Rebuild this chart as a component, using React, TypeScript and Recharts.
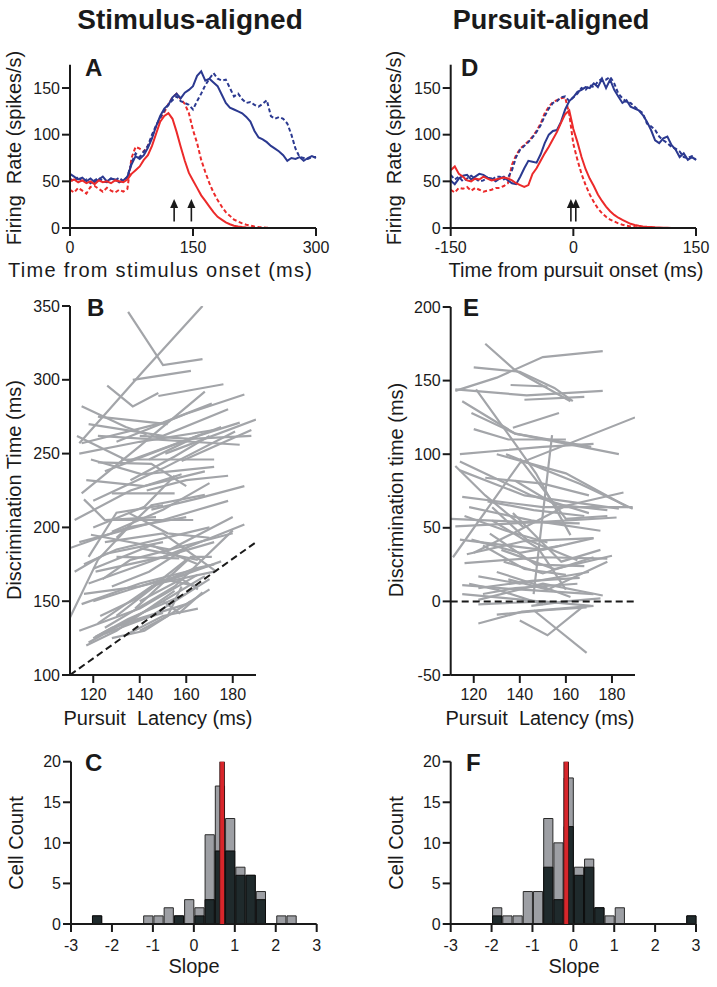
import React from 'react'
import { LineChart, Line, XAxis, YAxis, ReferenceLine, ReferenceDot, ComposedChart, Bar, Scatter } from 'recharts'

const FONT = "'Liberation Sans', Arial, Helvetica, sans-serif"
const INK = '#1a1a1a'
const BLUE = '#2b3990'
const RED = '#ec2a2a'
const GRAY = '#a3a5a9'

// ---- A: stimulus-aligned firing rate (5 ms steps)
const stimTime = [0, 5, 10, 15, 20, 25, 30, 35, 40, 45, 50, 55, 60, 65, 70, 75, 80, 85, 90, 95, 100, 105, 110, 115, 120, 125, 130, 135, 140, 145, 150, 155, 160, 165, 170, 175, 180, 185, 190, 195, 200, 205, 210, 215, 220, 225, 230, 235, 240, 245, 250, 255, 260, 265, 270, 275, 280, 285, 290, 295, 300]
const stimBlueSolid = [58, 55, 52, 54, 50, 53, 49, 52, 55, 50, 53, 52, 49, 51, 55, 68, 77, 74, 78, 86, 96, 109, 120, 128, 132, 140, 144, 139, 145, 148, 152, 163, 168, 158, 160, 156, 152, 143, 134, 129, 127, 125, 123, 119, 114, 104, 97, 95, 92, 88, 85, 82, 78, 72, 75, 74, 76, 72, 75, 77, 75]
const stimBlueDash = [53, 50, 55, 49, 52, 48, 51, 54, 50, 49, 53, 51, 54, 50, 55, 70, 80, 76, 82, 88, 100, 110, 118, 126, 132, 137, 141, 136, 134, 132, 127, 136, 144, 153, 160, 166, 160, 158, 159, 150, 141, 144, 138, 134, 135, 132, 130, 133, 137, 120, 117, 119, 117, 112, 100, 85, 76, 75, 74, 76, 76]
const stimRedSolid = [50, 52, 49, 51, 48, 50, 47, 51, 49, 50, 48, 51, 50, 49, 52, 58, 62, 66, 73, 78, 88, 101, 114, 120, 123, 117, 103, 87, 72, 59, 51, 43, 35, 29, 23, 17, 12, 9, 6, 4, 2.5, 1.6, 1, 0.6, 0.3, 0, 0, 0, 0, 0, 0, 0, 0, 0, 0, 0, 0, 0, 0, 0, 0]
const stimRedDash = [41, 38, 43, 40, 37, 44, 45, 42, 39, 43, 40, 38, 41, 39, 42, 75, 87, 85, 82, 88, 98, 109, 118, 124, 133, 140, 144, 138, 133, 123, 105, 91, 73, 60, 48, 38, 30, 23, 17, 13, 9, 7, 5, 3.5, 2.5, 1.5, 1, 0.6, 0.3, 0, 0, 0, 0, 0, 0, 0, 0, 0, 0, 0, 0]
const stimArrows = [127, 148]

// ---- D: pursuit-aligned firing rate
const pursTime = [-150, -145, -140, -135, -130, -125, -120, -115, -110, -105, -100, -95, -90, -85, -80, -75, -70, -65, -60, -55, -50, -45, -40, -35, -30, -25, -20, -15, -10, -5, 0, 5, 10, 15, 20, 25, 30, 35, 40, 45, 50, 55, 60, 65, 70, 75, 80, 85, 90, 95, 100, 105, 110, 115, 120, 125, 130, 135, 140, 145, 150]
const pursBlueSolid = [51, 47, 53, 56, 57, 52, 55, 58, 57, 54, 53, 50, 53, 55, 51, 48, 47, 55, 64, 72, 71, 70, 79, 91, 100, 104, 105, 114, 127, 136, 140, 146, 148, 151, 150, 155, 151, 160, 150, 159, 148, 141, 134, 137, 130, 128, 126, 121, 114, 105, 94, 91, 96, 98, 89, 84, 76, 80, 73, 76, 73]
const pursBlueDash = [57, 52, 55, 50, 53, 56, 53, 50, 51, 54, 51, 55, 55, 52, 54, 62, 76, 84, 88, 92, 97, 103, 110, 120, 128, 134, 136, 140, 141, 136, 140, 144, 150, 148, 153, 151, 157, 160, 159, 162, 155, 144, 139, 135, 134, 130, 126, 123, 112, 109, 105, 98, 94, 91, 87, 85, 82, 76, 75, 77, 73]
const pursRedSolid = [62, 66, 58, 55, 51, 50, 53, 52, 55, 53, 51, 52, 53, 54, 53, 51, 48, 46, 44, 46, 58, 64, 72, 80, 87, 95, 103, 113, 122, 126, 106, 92, 76, 63, 53, 45, 36, 29, 23, 18, 14, 11, 8.6, 6.5, 4.5, 3.3, 2.4, 1.7, 1.3, 1, 0.7, 0.5, 0.3, 0.2, 0, 0, 0, 0, 0, 0, 0]
const pursRedDash = [41, 38, 43, 42, 44, 40, 43, 41, 39, 40, 41, 43, 43, 45, 48, 68, 78, 85, 89, 93, 98, 104, 112, 123, 130, 135, 137, 139, 140, 122, 90, 73, 58, 46, 36, 28, 21, 16, 12, 9, 7, 5, 3.5, 2.4, 1.7, 1.1, 0.7, 0.4, 0.2, 0, 0, 0, 0, 0, 0, 0, 0, 0, 0, 0, 0]
const pursArrows = [-3, 3]

// ---- B: discrimination time vs pursuit latency, one polyline per cell [latency, time]
const stimCells: number[][][] = [
  [[135, 346], [150, 310], [167, 314]],
  [[114, 257], [141, 305], [167, 350]],
  [[137, 300], [162, 306]],
  [[126, 296], [137, 282], [148, 291]],
  [[148, 289], [176, 297]],
  [[115, 282], [134, 268], [143, 263]],
  [[122, 275], [140, 272], [152, 270]],
  [[115, 257], [150, 271], [171, 284]],
  [[114, 250], [140, 258], [172, 266]],
  [[122, 262], [183, 256]],
  [[119, 246], [141, 236], [172, 241]],
  [[115, 223], [140, 255], [168, 292]],
  [[116, 219], [125, 205], [147, 207]],
  [[144, 246], [165, 262], [183, 271]],
  [[151, 250], [190, 273]],
  [[132, 246], [172, 246]],
  [[128, 223], [155, 223]],
  [[158, 245], [188, 266]],
  [[120, 218], [150, 240], [181, 265]],
  [[143, 225], [160, 232], [178, 235]],
  [[113, 262], [135, 245], [165, 262]],
  [[118, 270], [150, 262], [178, 280]],
  [[125, 238], [148, 252], [175, 268]],
  [[130, 258], [160, 277], [185, 290]],
  [[117, 232], [142, 228], [168, 238]],
  [[136, 232], [155, 248], [170, 262]],
  [[122, 244], [145, 243], [160, 228]],
  [[140, 262], [162, 260], [188, 262]],
  [[112, 205], [136, 225], [158, 236]],
  [[145, 212], [166, 220], [185, 228]],
  [[128, 197], [150, 212], [170, 230]],
  [[120, 200], [142, 214], [155, 235]],
  [[110, 186], [135, 200], [160, 207]],
  [[114, 190], [150, 205], [178, 218]],
  [[116, 175], [130, 185], [170, 200]],
  [[118, 162], [150, 180], [185, 202]],
  [[120, 172], [145, 188], [165, 175]],
  [[116, 155], [140, 160], [160, 168]],
  [[121, 170], [150, 180], [172, 190]],
  [[124, 165], [136, 178], [180, 196]],
  [[130, 180], [157, 179]],
  [[125, 190], [150, 196], [173, 170]],
  [[119, 195], [153, 185], [180, 207]],
  [[127, 205], [163, 205]],
  [[135, 210], [152, 196], [170, 193]],
  [[140, 186], [165, 178]],
  [[110, 139], [122, 178], [135, 200]],
  [[112, 170], [125, 182], [150, 190]],
  [[130, 193], [145, 215], [168, 222]],
  [[118, 180], [130, 210], [150, 215]],
  [[114, 130], [140, 145], [165, 168]],
  [[118, 122], [150, 150], [168, 167]],
  [[120, 125], [135, 138], [160, 155]],
  [[122, 135], [145, 160], [175, 177]],
  [[117, 120], [130, 130], [155, 157]],
  [[125, 128], [145, 140], [170, 165]],
  [[128, 125], [142, 130], [162, 150]],
  [[120, 150], [150, 165], [165, 160]],
  [[130, 140], [148, 162], [172, 170]],
  [[135, 128], [150, 140], [165, 145]],
  [[115, 148], [140, 162], [170, 174]],
  [[140, 150], [158, 165], [165, 158]],
  [[125, 132], [155, 160], [180, 198]],
  [[145, 160], [163, 172], [172, 175]],
  [[133, 135], [160, 148], [170, 158]],
  [[140, 130], [152, 140], [158, 160]],
  [[138, 145], [162, 180], [171, 180]],
  [[150, 150], [157, 142], [167, 156]],
  [[121, 126], [128, 132], [150, 142]],
  [[123, 140], [139, 152], [160, 178]],
  [[128, 160], [144, 170], [162, 188]],
]
const stimDiagonal = [[110, 100], [190, 190]]

// ---- E: same cells, pursuit-aligned
const pursCells: number[][][] = [
  [[125, 175], [138, 157], [162, 136]],
  [[112, 143], [130, 152], [150, 166], [176, 170]],
  [[120, 159], [140, 156], [155, 145], [163, 136]],
  [[112, 144], [143, 140], [176, 143]],
  [[136, 147], [152, 146]],
  [[142, 137], [168, 139]],
  [[115, 136], [138, 114], [183, 100]],
  [[119, 128], [138, 114], [171, 105]],
  [[137, 118], [157, 128]],
  [[114, 100], [150, 105], [172, 107]],
  [[121, 144], [138, 107], [147, 87], [162, 45]],
  [[111, 30], [140, 94], [190, 125]],
  [[154, 113], [149, 46], [146, 5]],
  [[130, 100], [160, 87], [187, 64]],
  [[134, 100], [166, 80], [189, 63]],
  [[114, 95], [145, 72], [170, 60]],
  [[114, 89], [142, 72], [183, 63]],
  [[115, 71], [150, 64], [189, 64]],
  [[110, 56], [141, 54], [166, 53]],
  [[112, 51], [150, 54], [182, 57]],
  [[114, 42], [150, 35], [172, 43]],
  [[119, 42], [140, 33], [158, 38]],
  [[117, 32], [142, 41], [172, 43]],
  [[116, 26], [150, 30], [178, 29]],
  [[115, 11], [141, 8], [172, 5]],
  [[122, 9], [145, 14], [166, 16]],
  [[122, 1], [150, 12], [176, 4]],
  [[122, -2], [150, 0], [171, -3]],
  [[122, -15], [141, -7], [172, -3]],
  [[130, -9], [151, -6], [169, -4]],
  [[140, -13], [152, -23], [167, -4]],
  [[146, -6], [169, -35]],
  [[122, 17], [140, 12], [170, 20]],
  [[130, 20], [150, 10], [162, 3]],
  [[118, 64], [145, 55], [175, 48]],
  [[120, 33], [138, 47], [160, 65], [185, 74]],
  [[128, 55], [148, 36], [160, 8]],
  [[115, 5], [135, 2], [155, -1]],
  [[133, 27], [150, 19], [172, 30]],
  [[125, 84], [150, 80], [170, 72]],
  [[140, 97], [160, 56], [178, 58]],
  [[128, 64], [143, 42], [165, 28]],
  [[135, 15], [152, 8], [178, 27]],
  [[124, 5], [138, 9], [165, 12]],
  [[112, 92], [125, 72], [142, 50]],
  [[127, 46], [147, 25], [168, 24]],
  [[137, 60], [158, 27], [175, 35]],
  [[120, 117], [135, 110], [160, 110]],
  [[145, -3], [160, 0], [175, 2]],
  [[118, 12], [130, 8], [150, -2]],
  [[126, 68], [146, 62], [168, 58]],
  [[132, 35], [155, 22], [180, 31]],
  [[116, 58], [134, 48], [152, 40]],
  [[124, 38], [142, 22], [160, 18]],
  [[138, 82], [155, 66], [178, 62]],
]

// ---- C / F: slope histograms, 0.25 bins
const slopeBins = [-2.875, -2.625, -2.375, -2.125, -1.875, -1.625, -1.375, -1.125, -0.875, -0.625, -0.375, -0.125, 0.125, 0.375, 0.625, 0.875, 1.125, 1.375, 1.625, 1.875, 2.125, 2.375, 2.625, 2.875]
const stimAllCount = [0, 0, 1, 0, 0, 0, 0, 1, 1, 2, 1, 3, 2, 11, 17, 13, 7, 6, 4, 0, 1, 1, 0, 0]
const stimSigCount = [0, 0, 1, 0, 0, 0, 0, 0, 0, 0, 1, 0, 1, 3, 9, 9, 6, 6, 3, 0, 0, 0, 0, 0]
const stimMedian = 0.69
const pursAllCount = [0, 0, 0, 0, 2, 1, 1, 4, 4, 13, 10, 18, 7, 8, 2, 1, 2, 0, 0, 0, 0, 0, 0, 1]
const pursSigCount = [0, 0, 0, 0, 1, 0, 0, 0, 0, 7, 3, 12, 6, 7, 2, 0, 0, 0, 0, 0, 0, 0, 0, 1]
const pursMedian = -0.175
const countMax = 20

const tickStyle = { fontSize: 16, fill: INK, fontFamily: FONT }
const axisStroke = { stroke: INK, strokeWidth: 2 }

const yTitle = (text: string, x: number, y: number) => ({
  content: () => (
    <text x={x} y={y} transform={`rotate(-90 ${x} ${y})`} textAnchor="middle" fontSize={20} fontFamily={FONT} fill={INK} style={{ whiteSpace: 'pre' }}>
      {text}
    </text>
  ),
})
const xTitle = (text: string, x: number, y: number, len?: number) => ({
  content: () => (
    <text x={x} y={y} textAnchor="middle" fontSize={20} fontFamily={FONT} fill={INK} style={{ whiteSpace: 'pre' }} textLength={len} lengthAdjust={len ? 'spacing' : undefined}>
      {text}
    </text>
  ),
})

const arrowHead = (p: any) => <path d={`M${p.cx},${p.cy - 2} l-4,9 l8,0 z`} fill={INK} />
const noMarker = () => <g />

function RateChart(props: {
  time: number[]; bs: number[]; bd: number[]; rs: number[]; rd: number[]; arrows: number[]
  domain: [number, number]; ticks: number[]; width: number; yWidth: number; right: number
  xLabel: string; xLabelX: number; xLabelLen?: number; yLabelX: number
}) {
  const rows = props.time.map((t, i) => ({ t, bs: props.bs[i], bd: props.bd[i], rs: props.rs[i], rd: props.rd[i] }))
  return (
    <LineChart width={props.width} height={250} data={rows} margin={{ top: 24.7, right: props.right, bottom: 0, left: 0 }}>
      <XAxis type="number" dataKey="t" domain={props.domain} ticks={props.ticks} height={62} tick={tickStyle} tickSize={8} tickMargin={6} axisLine={axisStroke} tickLine={axisStroke} label={xTitle(props.xLabel, props.xLabelX, 237, props.xLabelLen)} />
      <YAxis type="number" domain={[0, 175]} ticks={[0, 50, 100, 150]} width={props.yWidth} tick={tickStyle} tickSize={8} tickMargin={2} axisLine={axisStroke} tickLine={axisStroke} label={yTitle('Firing  Rate (spikes/s)', props.yLabelX, 108)} />
      <Line dataKey="rd" stroke={RED} strokeWidth={2} strokeDasharray="4 2.5" dot={false} isAnimationActive={false} />
      <Line dataKey="bd" stroke={BLUE} strokeWidth={2} strokeDasharray="4 2.5" dot={false} isAnimationActive={false} />
      <Line dataKey="bs" stroke={BLUE} strokeWidth={2} dot={false} isAnimationActive={false} />
      <Line dataKey="rs" stroke={RED} strokeWidth={2} dot={false} isAnimationActive={false} />
      {props.arrows.map((a) => (
        <ReferenceLine key={`s${a}`} segment={[{ x: a, y: 7 }, { x: a, y: 22 }]} stroke={INK} strokeWidth={1.6} />
      ))}
      {props.arrows.map((a) => (
        <ReferenceDot key={`h${a}`} x={a} y={29} r={4} shape={arrowHead} />
      ))}
    </LineChart>
  )
}

function LatencyChart(props: {
  cells: number[][][]; domain: [number, number]; ticks: number[]; diagonal?: number[][]
  width: number; yWidth: number; right: number; top: number; yLabel: string; yLabelX: number; xLabelX: number
}) {
  const series = props.cells.map((pts) => pts.map(([x, y]) => ({ x, y })))
  return (
    <LineChart width={props.width} height={450} margin={{ top: props.top, right: props.right, bottom: 0, left: 0 }}>
      <XAxis type="number" dataKey="x" domain={[110, 190]} ticks={[120, 140, 160, 180]} height={65} tick={tickStyle} tickSize={8} tickMargin={6} axisLine={axisStroke} tickLine={axisStroke} allowDataOverflow label={xTitle('Pursuit  Latency (ms)', props.xLabelX, 435)} />
      <YAxis type="number" dataKey="y" domain={props.domain} ticks={props.ticks} width={props.yWidth} tick={tickStyle} tickSize={8} tickMargin={2} axisLine={axisStroke} tickLine={axisStroke} allowDataOverflow label={yTitle(props.yLabel, props.yLabelX, 200)} />
      {series.map((d, i) => (
        <Line key={i} data={d} dataKey="y" stroke={GRAY} strokeWidth={2.2} dot={false} isAnimationActive={false} />
      ))}
      {props.diagonal ? (
        <Line data={props.diagonal.map(([x, y]) => ({ x, y }))} dataKey="y" stroke={INK} strokeWidth={2} strokeDasharray="7 4" dot={false} isAnimationActive={false} />
      ) : (
        <ReferenceLine y={0} stroke={INK} strokeWidth={2} strokeDasharray="7 4" />
      )}
    </LineChart>
  )
}

function SlopeChart(props: { all: number[]; sig: number[]; median: number; width: number; yWidth: number; right: number; yLabelX: number; xLabelX: number }) {
  const rows = slopeBins.map((s, i) => ({ s, all: props.all[i], sig: props.sig[i] }))
  const medianLine = [{ s: props.median, v: 0 }, { s: props.median, v: countMax }]
  const barW = (props.width - props.yWidth - props.right) / slopeBins.length
  return (
    <ComposedChart width={props.width} height={247} data={rows} margin={{ top: 21.7, right: props.right, bottom: 0, left: 0 }} barGap={0} barCategoryGap={0}>
      <XAxis xAxisId="a" type="number" dataKey="s" domain={[-3, 3]} ticks={[-3, -2, -1, 0, 1, 2, 3]} height={63} tick={tickStyle} tickSize={8} tickMargin={8} axisLine={axisStroke} tickLine={axisStroke} label={xTitle('Slope', props.xLabelX, 233)} />
      <XAxis xAxisId="b" type="number" dataKey="s" domain={[-3, 3]} hide />
      <XAxis xAxisId="c" type="number" dataKey="s" domain={[-3, 3]} hide />
      <YAxis type="number" domain={[0, countMax]} ticks={[0, 5, 10, 15, 20]} width={props.yWidth} tick={tickStyle} tickSize={8} tickMargin={2} axisLine={axisStroke} tickLine={axisStroke} label={yTitle('Cell Count', props.yLabelX, 103)} />
      <Bar xAxisId="a" dataKey="all" fill="#9d9fa4" stroke="#2a2a2a" strokeWidth={1} barSize={barW} isAnimationActive={false} />
      <Bar xAxisId="b" dataKey="sig" fill="#1f2a2c" stroke="#0d0d0d" strokeWidth={1} barSize={barW} isAnimationActive={false} />
      <Scatter xAxisId="c" data={medianLine} dataKey="v" line={{ stroke: '#3a1515', strokeWidth: 5.6 }} shape={noMarker} isAnimationActive={false} />
      <Scatter xAxisId="c" data={medianLine} dataKey="v" line={{ stroke: '#d8262b', strokeWidth: 3.8 }} shape={noMarker} isAnimationActive={false} />
    </ComposedChart>
  )
}

const place = (left: number, top: number): React.CSSProperties => ({ position: 'absolute', left, top })

export default function App() {
  return (
    <div style={{ position: 'absolute', left: 0, top: 0, width: 717, height: 987, background: '#fff', fontFamily: FONT, overflow: 'hidden' }}>
      <div style={place(0, 40)}>
        <RateChart time={stimTime} bs={stimBlueSolid} bd={stimBlueDash} rs={stimRedSolid} rd={stimRedDash} arrows={stimArrows}
          domain={[0, 300]} ticks={[0, 150, 300]} width={330} yWidth={70} right={14}
          xLabel="Time from stimulus onset (ms)" xLabelX={160} xLabelLen={304} yLabelX={21} />
      </div>
      <div style={place(360, 40)}>
        <RateChart time={pursTime} bs={pursBlueSolid} bd={pursBlueDash} rs={pursRedSolid} rd={pursRedDash} arrows={pursArrows}
          domain={[-150, 150]} ticks={[-150, 0, 150]} width={357} yWidth={90.7} right={21}
          xLabel="Time from pursuit onset (ms)" xLabelX={216} yLabelX={41} />
      </div>
      <div style={place(0, 290)}>
        <LatencyChart cells={stimCells} diagonal={stimDiagonal} domain={[100, 350]} ticks={[100, 150, 200, 250, 300, 350]}
          width={330} yWidth={70} right={74} top={16} yLabel="Discrimination Time (ms)" yLabelX={21} xLabelX={158} />
      </div>
      <div style={place(360, 290)}>
        <LatencyChart cells={pursCells} domain={[-50, 200]} ticks={[-50, 0, 50, 100, 150, 200]}
          width={357} yWidth={90.7} right={82} top={17} yLabel="Discrimination time (ms)" yLabelX={43} xLabelX={180} />
      </div>
      <div style={place(0, 740)}>
        <SlopeChart all={stimAllCount} sig={stimSigCount} median={stimMedian} width={330} yWidth={71} right={13.3} yLabelX={23} xLabelX={194} />
      </div>
      <div style={place(360, 740)}>
        <SlopeChart all={pursAllCount} sig={pursSigCount} median={pursMedian} width={357} yWidth={90.7} right={21} yLabelX={43} xLabelX={214} />
      </div>
      <svg width={717} height={987} style={{ position: 'absolute', left: 0, top: 0, pointerEvents: 'none' }}>
        <g fontFamily={FONT} fontWeight="bold" fill={INK}>
          <text x={190} y={29} fontSize={28} textAnchor="middle">Stimulus-aligned</text>
          <text x={551} y={29} fontSize={27} textAnchor="middle">Pursuit-aligned</text>
          <text x={85} y={76} fontSize={24}>A</text>
          <text x={461} y={76} fontSize={24}>D</text>
          <text x={87} y={316} fontSize={24}>B</text>
          <text x={463} y={316} fontSize={24}>E</text>
          <text x={85} y={771} fontSize={24}>C</text>
          <text x={466} y={771} fontSize={24}>F</text>
        </g>
      </svg>
    </div>
  )
}
